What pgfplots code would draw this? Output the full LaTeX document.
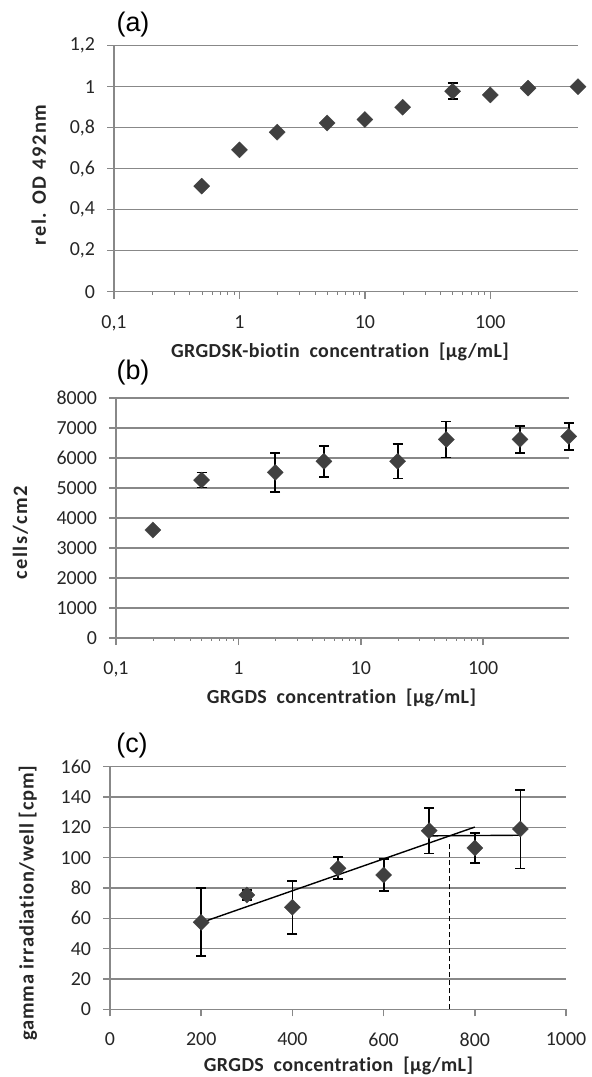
\documentclass[border=0pt]{standalone}
\usepackage{pgfplots}
\pgfplotsset{compat=1.18}
\usepackage{fontspec}
\setmainfont{Carlito}[Ligatures=NoCommon]
\newfontfamily\ylabfont{Carlito}[Ligatures=NoCommon, LetterSpace=8]
\newfontfamily\ylabfontc{Carlito}[Ligatures=NoCommon, LetterSpace=4]
\newfontfamily\xlabfont{Carlito}[Ligatures=NoCommon, LetterSpace=2]
\newfontfamily\arialfont{Liberation Sans}
\definecolor{gridgray}{HTML}{888888}
\definecolor{markgray}{HTML}{404040}

\pgfplotstableread{
x y e
0.5 0.515 0
1 0.692 0
2 0.778 0
5 0.823 0
10 0.840 0
20 0.900 0
50 0.978 0.039
100 0.960 0
200 0.993 0
500 1.000 0
}\dataA

\pgfplotstableread{
x y e
0.2 3600 0
0.5 5265 250
2 5520 640
5 5890 515
20 5890 570
50 6620 600
200 6620 440
500 6720 460
}\dataB

\pgfplotstableread{
x y e
200 57.4 22.4
300 75.4 3.5
400 67.3 17.5
500 93.0 7.3
600 88.6 10.5
700 117.8 15.0
800 106.4 9.8
900 118.9 26.0
}\dataC

\pgfplotsset{
  myaxis/.style={
    scale only axis,
    axis x line*=bottom, axis y line*=left,
    axis line style={draw=gridgray, line width=1.5bp, -},
    ymajorgrids, grid style={draw=gridgray, line width=1.5bp},
    major tick style={draw=gridgray, line width=1.5bp},
    tick align=outside,
    major tick length=7bp,
    minor tick num=0,
    tick label style={font=\fontsize{20}{22}\selectfont, text=black!85},
    xticklabel style={yshift=-13bp},
    yticklabel style={xshift=-8.5bp},
    xlabel style={font=\xlabfont\bfseries\fontsize{20}{22}\selectfont, text=black!85},
    ylabel style={font=\ylabfont\bfseries\fontsize{20.5}{22}\selectfont, text=black!85},
    clip=false,
  },
  mymarks/.style={only marks, mark=square*, mark size=5.7bp,
    mark options={rotate=45, fill=markgray, draw=markgray, line width=0.3bp}},
  myerr/.style={only marks, mark=none,
    error bars/.cd, y dir=both, y explicit,
    error bar style={black, line width=1.8bp},
    error mark options={black, line width=1.8bp, mark size=5bp, rotate=90}},
}

\begin{document}
\begin{tikzpicture}
\path[use as bounding box] (0,0) rectangle (592bp,-1077bp);

% (a)
\begin{axis}[myaxis,
  at={(114bp,-291.7bp)}, anchor=south west,
  width=464bp, height=246bp,
  xmode=log, xmin=0.1, xmax=500,
  xtick={0.1,1,10,100}, xticklabels={0{,}1,1,10,100},
  minor xtick={},
  ymin=0, ymax=1.2,
  ytick={0,0.2,0.4,0.6,0.8,1,1.2},
  yticklabels={0,0{,}2,0{,}4,0{,}6,0{,}8,1,1{,}2},
  xlabel={GRGDSK-biotin\ \ concentration\ \ [µg/mL]},
  ylabel={rel. OD 492nm},
  xlabel style={at={(axis description cs:0.487,-0.245)}, anchor=center},
  ylabel style={at={(axis description cs:-0.162,0.474)}, anchor=center},
]
\addplot[myerr] table[x=x, y=y, y error=e] {\dataA};
\addplot[mymarks] table[x=x, y=y] {\dataA};
\end{axis}

% (b)
\begin{axis}[myaxis,
  at={(116bp,-638bp)}, anchor=south west,
  width=452.7bp, height=240bp,
  xmode=log, xmin=0.1, xmax=500,
  xtick={0.1,1,10,100}, xticklabels={0{,}1,1,10,100},
  minor xtick={},
  ymin=0, ymax=8000,
  ytick={0,1000,...,8000},
  yticklabels={0,1000,2000,3000,4000,5000,6000,7000,8000},
  xlabel={GRGDS\ \ concentration\ \ [µg/mL]},
  ylabel={cells/cm2},
  xlabel style={at={(axis description cs:0.498,-0.248)}, anchor=center},
  ylabel style={at={(axis description cs:-0.211,0.4375)}, anchor=center},
]
\addplot[myerr] table[x=x, y=y, y error=e] {\dataB};
\addplot[mymarks] table[x=x, y=y] {\dataB};
\end{axis}

% (c)
\begin{axis}[myaxis,
  at={(110bp,-1009.3bp)}, anchor=south west,
  width=456bp, height=242.6bp,
  xmin=0, xmax=1000,
  xtick={0,200,...,1000},
  xticklabels={0,200,400,600,800,1000},
  ymin=0, ymax=160,
  ytick={0,20,...,160},
  yticklabels={0,20,40,60,80,100,120,140,160},
  xlabel={GRGDS\ \ concentration\ \ [µg/mL]},
  ylabel={gamma irradiation/well [cpm]},
  xlabel style={at={(axis description cs:0.501,-0.232)}, anchor=center},
  ylabel style={at={(axis description cs:-0.18,0.438)}, anchor=center,
    font=\ylabfontc\bfseries\fontsize{20.5}{22}\selectfont},
]
\addplot[black, line width=1.4bp] coordinates {(200,57.2) (800,120.2)};
\addplot[black, line width=1.4bp] coordinates {(702,114.4) (901,114.8)};
\addplot[black, line width=1.5bp, dash pattern=on 5bp off 3bp] coordinates {(745,0) (745,109)};
\addplot[myerr] table[x=x, y=y, y error=e] {\dataC};
\addplot[mymarks] table[x=x, y=y] {\dataC};
\end{axis}

\node[font=\arialfont\fontsize{27}{27}\selectfont] at (133bp,-25bp) {(a)};
\node[font=\arialfont\fontsize{27}{27}\selectfont] at (133bp,-373bp) {(b)};
\node[font=\arialfont\fontsize{27}{27}\selectfont] at (132bp,-746bp) {(c)};
\end{tikzpicture}
\end{document}
